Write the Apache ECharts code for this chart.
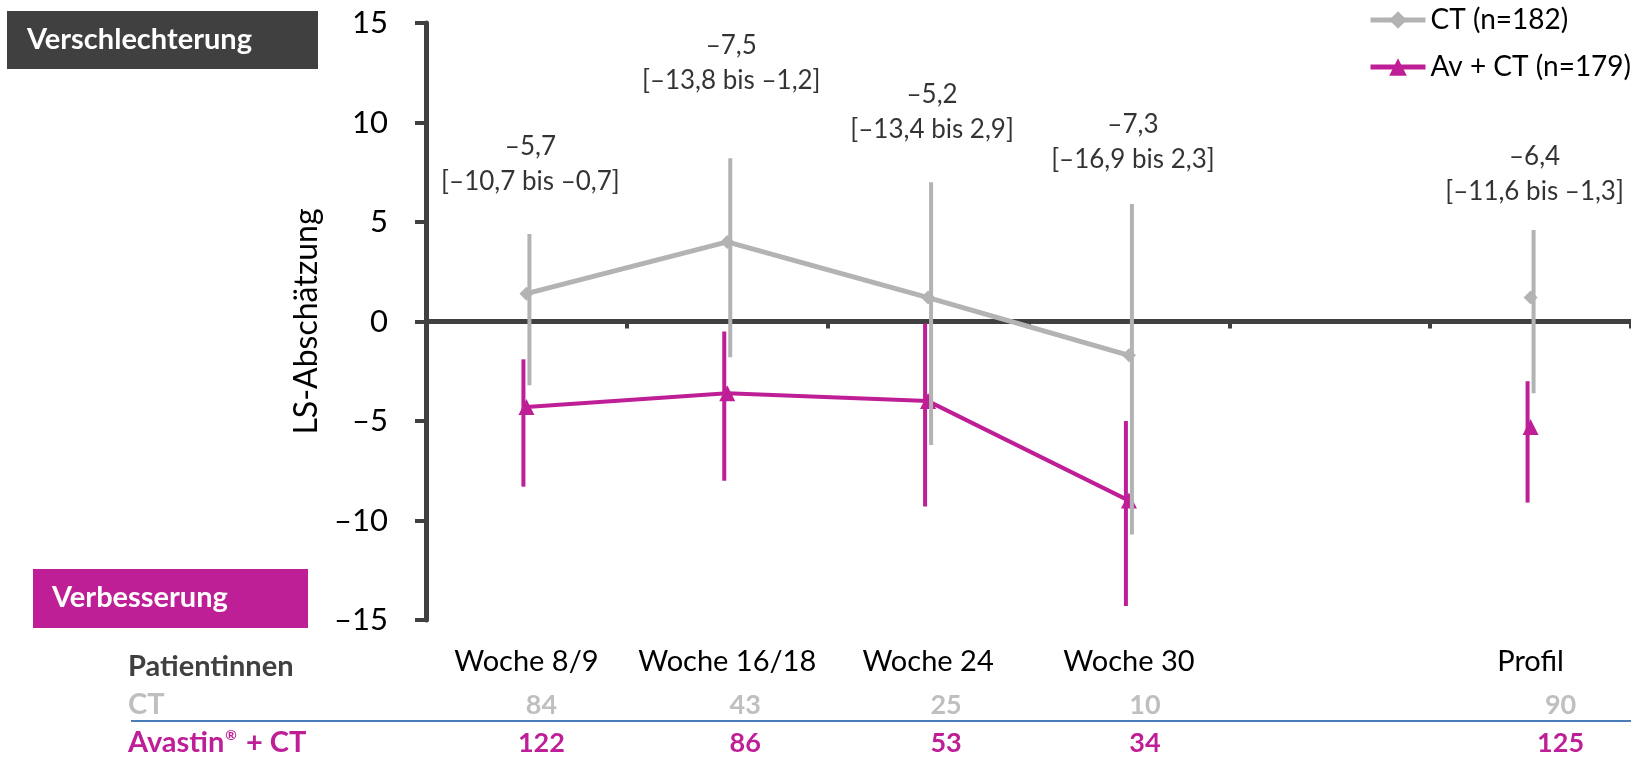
<!DOCTYPE html>
<html><head><meta charset="utf-8">
<script src="https://cdn.jsdelivr.net/npm/echarts@6/dist/echarts.min.js"></script>
<style>html,body{margin:0;padding:0;background:#fff;} #c{width:1631px;height:757px;}</style>
</head><body><div id="c"></div>
<script>
// ---- data ----
const categories = ['Woche 8/9', 'Woche 16/18', 'Woche 24', 'Woche 30', '', 'Profil'];
const ctMean = [1.4, 4.0, 1.2, -1.7, null, 1.2];
const ctLow  = [-3.2, -1.8, -6.2, -10.7, null, -3.6];
const ctHigh = [4.4, 8.2, 7.0, 5.9, null, 4.6];
const avMean = [-4.3, -3.6, -4.0, -9.0, null, -5.3];
const avLow  = [-8.3, -8.0, -9.3, -14.3, null, -9.1];
const avHigh = [-1.9, -0.5, -0.1, -5.0, null, -3.0];
const diffLabels = ['–5,7', '–7,5', '–5,2', '–7,3', null, '–6,4'];
const ciLabels = ['[–10,7 bis –0,7]', '[–13,8 bis –1,2]', '[–13,4 bis 2,9]', '[–16,9 bis 2,3]', null, '[–11,6 bis –1,3]'];
const annotY = [7.9, 13.0, 10.5, 9.0, null, 7.4];
const nCT = [84, 43, 25, 10, null, 90];
const nAv = [122, 86, 53, 34, null, 125];
const yMin = -15, yMax = 15, yStep = 5;
const seriesNames = ['CT (n=182)', 'Av + CT (n=179)'];
const rowLabels = ['Patientinnen', 'CT', 'Avastin'];

// ---- style ----
const FONT = 'Lato';
const GRAY = '#B3B3B3';
const PINK = '#BF1F96';
const DARK = '#404040';

const chart = echarts.init(document.getElementById('c'));

function errBar(low, high, color, dx, z) {
  return {
    type: 'custom', z: z, silent: true,
    data: low.map((l, i) => [i, l, high[i]]).filter(d => d[1] != null),
    encode: { x: 0, y: [1, 2] },
    renderItem: (params, api) => {
      const a = api.coord([api.value(0), api.value(1)]);
      const b = api.coord([api.value(0), api.value(2)]);
      return { type: 'line', shape: { x1: a[0] + dx, y1: a[1], x2: b[0] + dx, y2: b[1] },
        style: { stroke: color, lineWidth: 4 } };
    }
  };
}

chart.setOption({
  animation: false,
  textStyle: { fontFamily: FONT },
  grid: { left: 426, right: -6, top: 23, bottom: 137, containLabel: false },
  legend: {
    data: seriesNames, orient: 'vertical', left: 1368, top: 6, padding: 0,
    itemWidth: 55, itemHeight: 22, itemGap: 19,
    lineStyle: { width: 5 },
    textStyle: { fontSize: 28, color: '#000', fontFamily: FONT }
  },
  xAxis: [
    { type: 'category', data: categories, boundaryGap: true,
      axisLine: { onZero: true, lineStyle: { color: DARK, width: 5 } },
      axisTick: { show: true, interval: 0, length: 7, lineStyle: { color: DARK, width: 4 } },
      axisLabel: { show: false }, splitLine: { show: false } },
    { type: 'category', data: categories, boundaryGap: true, position: 'bottom',
      axisLine: { show: false, onZero: false }, axisTick: { show: false },
      axisLabel: { show: true, interval: 0, margin: 27, fontSize: 29, color: '#000', fontFamily: FONT },
      splitLine: { show: false } }
  ],
  yAxis: {
    type: 'value', min: yMin, max: yMax, interval: yStep,
    name: 'LS-Abschätzung', nameLocation: 'middle', nameGap: 99,
    nameTextStyle: { fontSize: 32, color: '#000', fontFamily: FONT },
    axisLine: { show: true, lineStyle: { color: DARK, width: 5 } },
    axisTick: { show: true, length: 11, lineStyle: { color: DARK, width: 4 } },
    axisLabel: { fontSize: 31, color: '#000', margin: 38, fontFamily: FONT,
      formatter: v => (v < 0 ? '–' + Math.abs(v) : String(v)) },
    splitLine: { show: false }
  },
  series: [
    { name: seriesNames[1], type: 'line', z: 2, data: avMean, connectNulls: false,
      symbol: 'triangle', symbolSize: 16, showAllSymbol: true,
      lineStyle: { color: PINK, width: 4 }, itemStyle: { color: PINK } },
    errBar(avLow, avHigh, PINK, -3, 3),
    { name: seriesNames[0], type: 'line', z: 4, data: ctMean, connectNulls: false,
      symbol: 'diamond', symbolSize: 14, showAllSymbol: true,
      lineStyle: { color: GRAY, width: 5 }, itemStyle: { color: GRAY } },
    errBar(ctLow, ctHigh, GRAY, 3, 5),
    { type: 'scatter', z: 6, silent: true, symbolSize: 1, itemStyle: { color: 'rgba(0,0,0,0)' },
      data: annotY.map((y, i) => [i, y]).filter(d => d[1] != null),
      label: { show: true, position: 'inside', offset: [4, 0], color: '#000', fontSize: 26, lineHeight: 35,
        fontFamily: FONT,
        formatter: p => diffLabels[p.value[0]] + '\n' + ciLabels[p.value[0]] } }
  ]
});

// ---- table below the axis + side boxes ----
const colOffset = [15, 18, 18, 16, 0, 30];
const g = [];
g.push({ type: 'rect', shape: { x: 7, y: 11, width: 311, height: 58 }, style: { fill: DARK } });
g.push({ type: 'text', x: 27, y: 40, style: { text: 'Verschlechterung', fill: '#fff', font: 'bold 29px ' + FONT, verticalAlign: 'middle' } });
g.push({ type: 'rect', shape: { x: 33, y: 569, width: 275, height: 59 }, style: { fill: PINK } });
g.push({ type: 'text', x: 52, y: 598, style: { text: 'Verbesserung', fill: '#fff', font: 'bold 29px ' + FONT, verticalAlign: 'middle' } });
g.push({ type: 'text', x: 128, y: 667, style: { text: rowLabels[0], fill: DARK, font: 'bold 29px ' + FONT, verticalAlign: 'middle' } });
g.push({ type: 'text', x: 128, y: 705, style: { text: rowLabels[1], fill: '#BFBFBF', font: 'bold 29px ' + FONT, verticalAlign: 'middle' } });
g.push({ type: 'text', x: 128, y: 743, style: { text: '{m|Avastin}{s|®}{m| + CT}', fill: PINK, verticalAlign: 'middle',
  rich: { m: { font: 'bold 29px ' + FONT, fill: PINK, verticalAlign: 'bottom' }, s: { font: 'bold 14px ' + FONT, fill: PINK, verticalAlign: 'top', padding: [0, 2, 13, 1] } } } });
g.push({ type: 'line', shape: { x1: 131, y1: 721, x2: 1631, y2: 721 }, style: { stroke: '#4A7EBB', lineWidth: 2 } });
categories.forEach((c, i) => {
  if (nCT[i] == null) return;
  const x = chart.convertToPixel({ xAxisIndex: 0 }, i) + colOffset[i];
  g.push({ type: 'text', x: x, y: 705, style: { text: String(nCT[i]), fill: '#BFBFBF', font: 'bold 27px ' + FONT, align: 'center', verticalAlign: 'middle' } });
  g.push({ type: 'text', x: x, y: 743, style: { text: String(nAv[i]), fill: PINK, font: 'bold 27px ' + FONT, align: 'center', verticalAlign: 'middle' } });
});
chart.setOption({ graphic: g });
</script>
</body></html>
